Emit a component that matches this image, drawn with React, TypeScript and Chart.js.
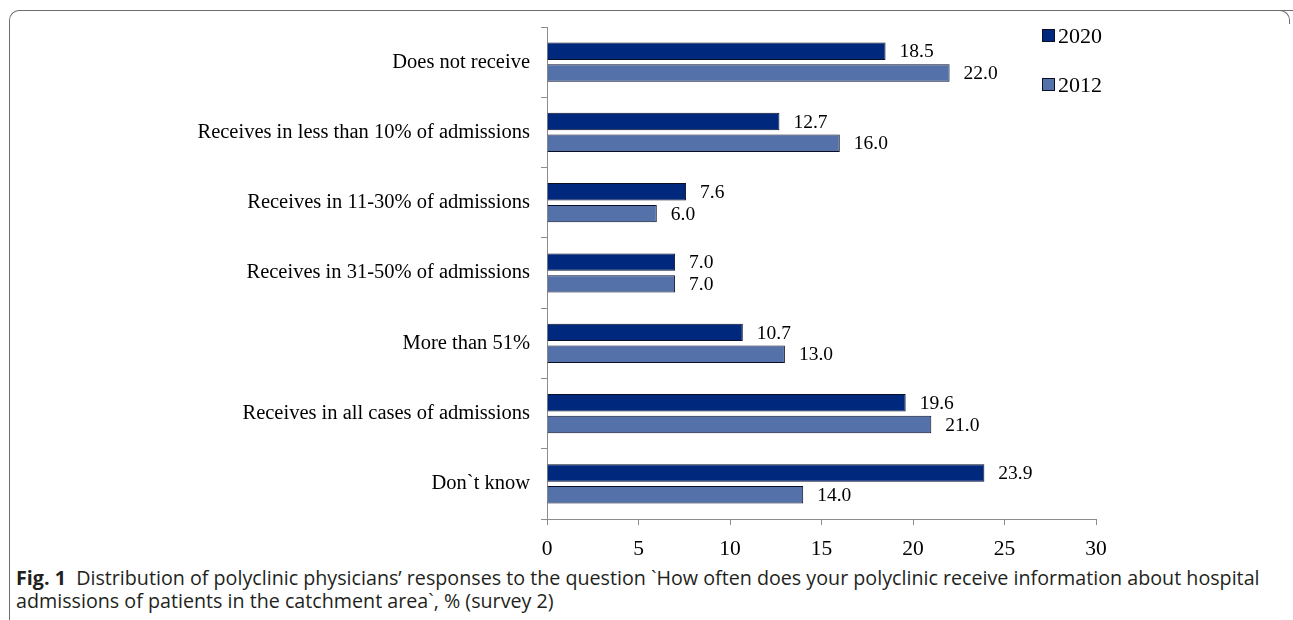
import React, { useEffect, useRef } from "react";
import { Chart, registerables } from "chart.js";

Chart.register(...registerables);

const categories = [
  "Does not receive",
  "Receives in less than 10% of admissions",
  "Receives in 11-30% of admissions",
  "Receives in 31-50% of admissions",
  "More than 51%",
  "Receives in all cases of admissions",
  "Don`t know",
];
const values2020 = [18.5, 12.7, 7.6, 7.0, 10.7, 19.6, 23.9];
const values2012 = [22.0, 16.0, 6.0, 7.0, 13.0, 21.0, 14.0];
const seriesNames = ["2020", "2012"];
const xTicks = [0, 5, 10, 15, 20, 25, 30];

const COLOR_2020 = "#00287d";
const COLOR_2012 = "#5571a9";
const SERIF = "'Liberation Serif', 'Times New Roman', serif";

const labelPlugin = {
  id: "valueLabels",
  afterDatasetsDraw(chart: any) {
    const ctx = chart.ctx;
    ctx.save();
    ctx.font = `19.5px ${SERIF}`;
    ctx.fillStyle = "#000";
    ctx.textAlign = "left";
    ctx.textBaseline = "middle";
    chart.data.datasets.forEach((ds: any, di: number) => {
      const meta = chart.getDatasetMeta(di);
      meta.data.forEach((bar: any, i: number) => {
        ctx.fillText(Number(ds.data[i]).toFixed(1), bar.x + 14, bar.y + 1);
      });
    });
    ctx.restore();
  },
};

function BarChart() {
  const ref = useRef<HTMLCanvasElement>(null);
  useEffect(() => {
    if (!ref.current) return;
    const chart = new Chart(ref.current, {
      type: "bar",
      data: {
        labels: categories,
        datasets: [
          {
            label: seriesNames[0],
            data: values2020,
            backgroundColor: COLOR_2020,
            borderColor: "#0a0f24",
            borderWidth: 1,
            categoryPercentage: 0.62,
            barPercentage: 0.8,
          },
          {
            label: seriesNames[1],
            data: values2012,
            backgroundColor: COLOR_2012,
            borderColor: "#0a0f24",
            borderWidth: 1,
            categoryPercentage: 0.62,
            barPercentage: 0.8,
          },
        ],
      },
      options: {
        indexAxis: "y",
        animation: false,
        responsive: false,
        devicePixelRatio: 1,
        layout: { padding: { top: 27, right: 197, left: 0, bottom: 0 } },
        plugins: { legend: { display: false }, tooltip: { enabled: false } },
        scales: {
          x: {
            min: 0,
            max: 30,
            afterBuildTicks(scale: any) {
              scale.ticks = xTicks.map((v) => ({ value: v }));
            },
            afterFit(scale: any) {
              scale.height = 41;
            },
            ticks: {
              color: "#000",
              font: { family: SERIF, size: 21.5 },
              padding: 11,
            },
            grid: {
              drawOnChartArea: false,
              tickLength: 6,
              color: "#8c8c8c",
            },
            border: { color: "#8c8c8c", width: 1 },
          },
          y: {
            afterFit(scale: any) {
              scale.width = 547;
            },
            ticks: {
              color: "#000",
              font: { family: SERIF, size: 20.5 },
              padding: 11,
            },
            grid: {
              drawOnChartArea: false,
              tickLength: 6,
              color: "#8c8c8c",
              offset: true,
            },
            border: { color: "#8c8c8c", width: 1 },
          },
        },
      },
      plugins: [labelPlugin],
    });
    return () => chart.destroy();
  }, []);
  return (
    <canvas
      ref={ref}
      width={1293}
      height={560}
      style={{ position: "absolute", left: 0, top: 0, width: 1293, height: 560 }}
    />
  );
}

export default function App() {
  return (
    <div
      style={{
        position: "fixed",
        left: 0,
        top: 0,
        width: 1293,
        height: 620,
        background: "#fff",
        overflow: "hidden",
      }}
    >
      <div
        style={{
          position: "absolute",
          left: 9,
          top: 10,
          width: 1300,
          height: 620,
          borderTop: "1.5px solid #6e6e6e",
          borderLeft: "1.5px solid #6e6e6e",
          borderTopLeftRadius: 10,
          boxSizing: "border-box",
        }}
      />
      <div
        style={{
          position: "absolute",
          left: 1270,
          top: 10,
          width: 20,
          height: 14,
          borderTop: "1.5px solid #6e6e6e",
          borderRight: "1.5px solid #6e6e6e",
          borderTopRightRadius: 10,
          boxSizing: "border-box",
          background: "#fff",
        }}
      />
      <BarChart />
      {seriesNames.map((name, i) => (
        <div
          key={name}
          style={{
            position: "absolute",
            left: 1042,
            top: 23 + i * 49,
            fontFamily: SERIF,
            fontSize: 22,
            lineHeight: "25px",
            display: "flex",
            alignItems: "center",
            color: "#000",
          }}
        >
          <span
            style={{
              display: "inline-block",
              width: 11,
              height: 11,
              background: i === 0 ? COLOR_2020 : COLOR_2012,
              border: "1px solid #0a0f24",
              marginRight: 3,
            }}
          />
          {name}
        </div>
      ))}
      <div
        style={{
          position: "absolute",
          left: 16,
          top: 566,
          width: 1275,
          whiteSpace: "nowrap",
          fontFamily: "'Open Sans', 'Noto Sans', sans-serif",
          fontSize: 19.7,
          lineHeight: "23px",
          color: "#231f20",
        }}
      >
        <b>Fig. 1</b>&nbsp;&nbsp;Distribution of polyclinic physicians’ responses to the question `How often does your polyclinic receive information about hospital
        <br />
        admissions of patients in the catchment area`, % (survey 2)
      </div>
    </div>
  );
}
